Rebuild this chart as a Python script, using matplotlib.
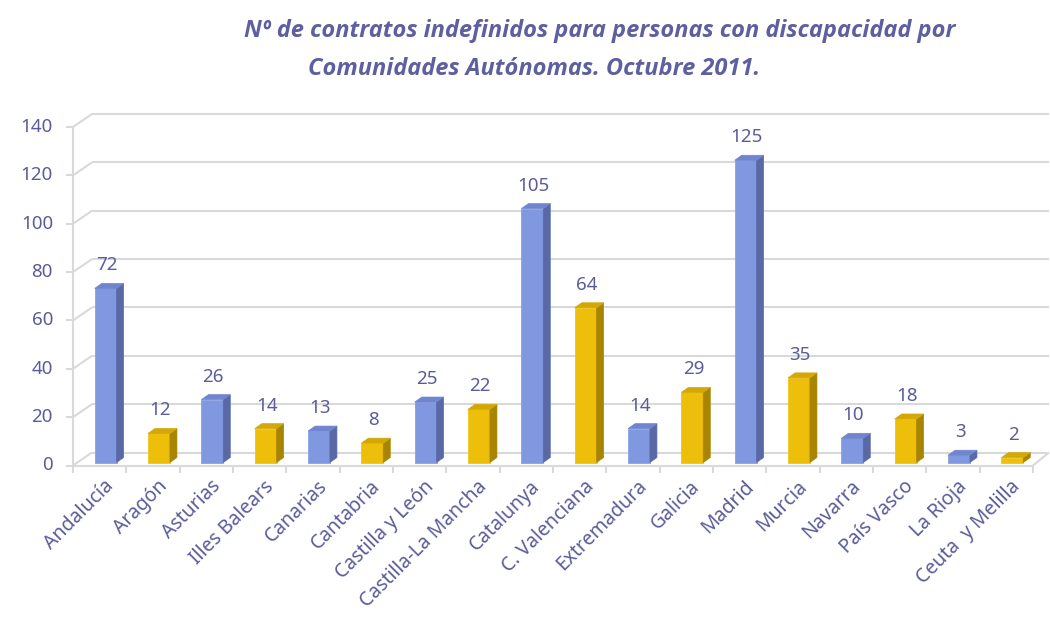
import matplotlib
matplotlib.use("Agg")
import matplotlib.pyplot as plt
from matplotlib.patches import Polygon
from matplotlib.lines import Line2D
import matplotlib.transforms as mtransforms

categories = ["Andalucía", "Aragón", "Asturias", "Illes Balears", "Canarias",
              "Cantabria", "Castilla y León", "Castilla-La Mancha", "Catalunya",
              "C. Valenciana", "Extremadura", "Galicia", "Madrid", "Murcia",
              "Navarra", "País Vasco", "La Rioja", "Ceuta  y Melilla"]
values = [72, 12, 26, 14, 13, 8, 25, 22, 105, 64, 14, 29, 125, 35, 10, 18, 3, 2]
yticks = [0, 20, 40, 60, 80, 100, 120, 140]

TXT = "#5B5C9A"
GRID = "#d9d9d9"
BLUE = ("#8098E0", "#5A68A6", "#6F85CF")   # front, side, top
GOLD = ("#EDBE0A", "#A88500", "#D3A806")
FONT = "Noto Sans"
TFONT = "Open Sans"

W, H = 1050, 625
fig = plt.figure(figsize=(W / 100, H / 100), dpi=100)
left, right, bot, top = 73, 1033, 465.5, 127
ax = fig.add_axes([left / W, (H - bot) / H, (right - left) / W, (bot - top) / H])
ax.set_xlim(0, len(categories))
ax.set_ylim(0, 140)
ax.axis("off")
fig.canvas.draw()

ident = mtransforms.IdentityTransform()
T = ax.transData
WX, WY = 19, 13          # wall depth (px)
BX0, BY0 = 6, 3          # bar front offset into depth
BDX, BDY = 7, 5          # bar depth

def add_line(xs, ys, lw=1.5, color=GRID, z=1):
    fig.add_artist(Line2D(xs, ys, transform=ident, color=color, lw=lw,
                          zorder=z, solid_capstyle="butt"))

# gridlines on back wall + left wall
x_right_px = W - 1
for v in yticks:
    px, py = T.transform((0, v))
    add_line([px, px + WX], [py, py + WY])
    add_line([px + WX, x_right_px], [py + WY, py + WY])
    add_line([px - 7, px], [py, py])  # tick mark
# vertical axis line
p0 = T.transform((0, 0)); p1 = T.transform((0, 140))
add_line([p0[0], p1[0]], [p0[1], p1[1]])
# floor front line + right diagonal
pr = T.transform((len(categories), 0))
add_line([p0[0], pr[0]], [p0[1], pr[1]])
add_line([pr[0], pr[0] + WX - 3], [pr[1], pr[1] + WY])
# category ticks
for i in range(len(categories) + 1):
    tx, ty = T.transform((i, 0))
    add_line([tx, tx], [ty, ty - 7])

# bars
width = 0.41
for i, (cat, v) in enumerate(zip(categories, values)):
    front, side, topc = BLUE if i % 2 == 0 else GOLD
    c = i + 0.5
    (x0, y0) = T.transform((c - width / 2, 0))
    (x1, y1) = T.transform((c + width / 2, v))
    x0 += BX0; x1 += BX0; y0 += BY0; y1 += BY0
    faces = [
        ([(x0, y0), (x1, y0), (x1, y1), (x0, y1)], front),
        ([(x1, y0), (x1 + BDX, y0 + BDY), (x1 + BDX, y1 + BDY), (x1, y1)], side),
        ([(x0, y1), (x1, y1), (x1 + BDX, y1 + BDY), (x0 + BDX, y1 + BDY)], topc),
    ]
    for verts, col in faces:
        fig.add_artist(Polygon(verts, closed=True, transform=ident,
                               facecolor=col, edgecolor=col, lw=0.5, zorder=3))
    fig.text((x0 + x1) / 2 / W + 1 / W, (y1 + 14) / H, str(v), ha="center",
             va="bottom", fontsize=13.5, color=TXT, family=FONT)
    # category label
    lx, ly = T.transform((c, 0))
    fig.text(lx / W + 4 / W, (ly - 11) / H, cat, rotation=45, ha="right", va="top",
             rotation_mode="anchor", fontsize=14, color=TXT, family=FONT)

for v in yticks:
    px, py = T.transform((0, v))
    fig.text((px - 20) / W, py / H, str(v), ha="right", va="center",
             fontsize=13.5, color=TXT, family=FONT)

fig.text(600 / W, 1 - 31 / H, "Nº de contratos indefinidos para personas con discapacidad por",
         ha="center", va="center", fontsize=17, fontweight="bold", fontstyle="italic",
         color="#5E5F9E", family=TFONT)
fig.text(534 / W, 1 - 69 / H, "Comunidades Autónomas. Octubre 2011.",
         ha="center", va="center", fontsize=17, fontweight="bold", fontstyle="italic",
         color="#5E5F9E", family=TFONT)

fig.savefig("out.png", dpi=100)
